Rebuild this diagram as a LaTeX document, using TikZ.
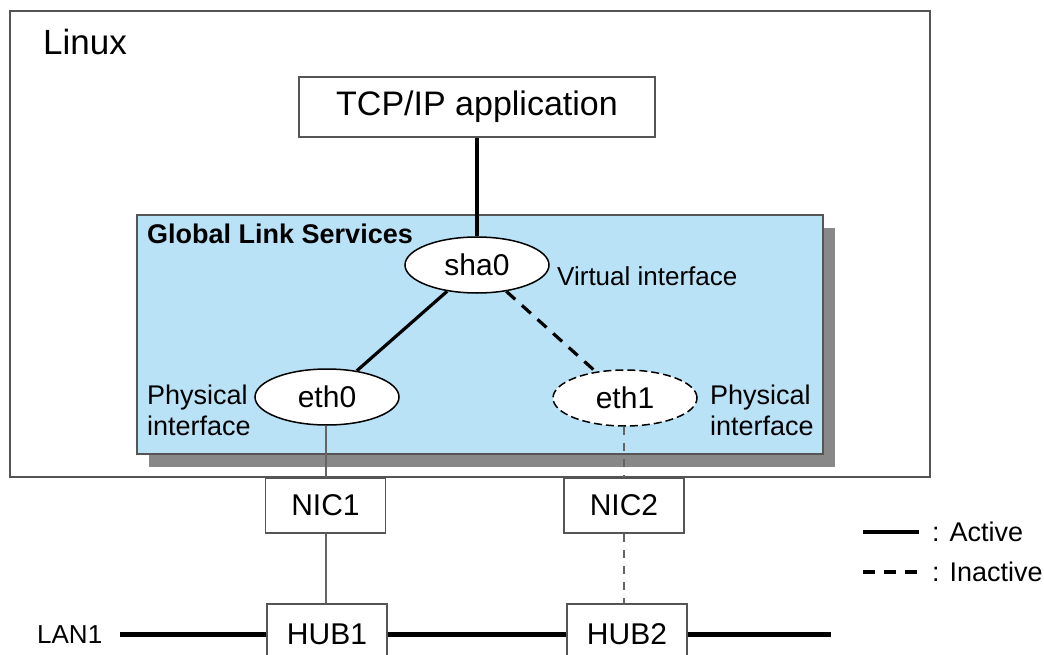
\documentclass[tikz,border=0pt]{standalone}
\usepackage{fontspec}
\setmainfont{Liberation Sans}
\usetikzlibrary{shapes.geometric}
\definecolor{glsblue}{RGB}{186,226,247}
\definecolor{framegray}{RGB}{85,85,85}
\definecolor{shadowgray}{RGB}{136,136,136}
\definecolor{wiregray}{RGB}{100,100,100}

\begin{document}
\begin{tikzpicture}[
  x=1pt, y=-1pt,
  every node/.style={font=\fontsize{30}{34}\selectfont},
  txt/.style={anchor=west, inner sep=0pt, align=left},
  ifbox/.style={draw=framegray, line width=1.5pt, fill=white,
    minimum width=120pt, minimum height=55pt, inner sep=0pt},
  iface/.style={ellipse, draw=black, line width=1.5pt, fill=white,
    minimum width=144pt, minimum height=56pt, inner sep=0pt},
  offline/.style={dash pattern=on 8pt off 4pt},
  active/.style={black, line width=3.2pt},
  inactive/.style={black, line width=3.2pt, dash pattern=on 12pt off 9pt},
  wire/.style={wiregray, line width=2pt},
  wireoff/.style={wiregray, line width=2pt, dash pattern=on 8pt off 8pt},
  lanline/.style={black, line width=5pt}
]
\fill[white] (0,0) rectangle (1044,655);
\clip (0,0) rectangle (1044,655);

\draw[framegray, line width=2pt] (10,11) rectangle (930,477);
\node (linuxlbl) [txt, font=\fontsize{35}{40}\selectfont] at (43,42) {Linux};

\node (tcp) [draw=framegray, line width=1.5pt, fill=white, minimum width=356pt,
  minimum height=60pt, font=\fontsize{34}{40}\selectfont] at (477,107) {TCP/IP application};

\fill[shadowgray] (149,228) rectangle (835,467);
\draw[framegray, line width=1.5pt, fill=glsblue] (137,215) rectangle (823,454);
\node (glslbl) [txt, font=\fontsize{27}{31}\bfseries] at (147,234) {Global Link Services};

\node (sha0) [iface] at (477,265) {sha0};
\node (eth0) [iface] at (327,397) {eth0};
\node (eth1) [iface, offline] at (625,398) {eth1};
\node (virtlbl) [txt, font=\fontsize{26}{30}\selectfont] at (557,276) {Virtual interface};
\node (phys0lbl) [txt, font=\fontsize{27}{31}\selectfont] at (147,410) {Physical\\interface};
\node (phys1lbl) [txt, font=\fontsize{27}{31}\selectfont] at (710,410) {Physical\\interface};

\node (nic1) [ifbox] at (325.5,505.5) {NIC1};
\node (nic2) [ifbox] at (624,505.5) {NIC2};
\node (hub1) [ifbox, minimum height=60pt] at (327,634) {HUB1};
\node (hub2) [ifbox, minimum height=60pt] at (627,634) {HUB2};
\node (lanlbl) [txt, font=\fontsize{26}{30}\selectfont] at (37,635) {LAN1};

\draw[active] (tcp) -- (sha0);
\draw[active] (sha0) -- (eth0);
\draw[inactive] (sha0) -- (eth1);
\draw[wire] (eth0.south -| nic1.north) -- (nic1.north);
\draw[wire] (nic1.south) -- (hub1.north -| nic1.south);
\draw[wireoff] (eth1.south -| nic2.north) -- (nic2.north);
\draw[wireoff] (nic2.south) -- (hub2.north -| nic2.south);

\coordinate (lanstart) at (120,634);
\coordinate (lanend) at (831,634);
\draw[lanline] (lanstart) -- (hub1.west) (hub1.east) -- (hub2.west) (hub2.east) -- (lanend);

\node (actlbl) [txt, font=\fontsize{27}{31}\selectfont] at (932,532) {: Active};
\node (inactlbl) [txt, font=\fontsize{27}{31}\selectfont] at (932,572) {: Inactive};
\coordinate (actA) at (863,532);
\coordinate (actB) at (919,532);
\coordinate (inactA) at (863,572);
\coordinate (inactB) at (919,572);
\draw[active, line width=4pt] (actA) -- (actB);
\draw[inactive, line width=4pt] (inactA) -- (inactB);
\end{tikzpicture}
\end{document}
